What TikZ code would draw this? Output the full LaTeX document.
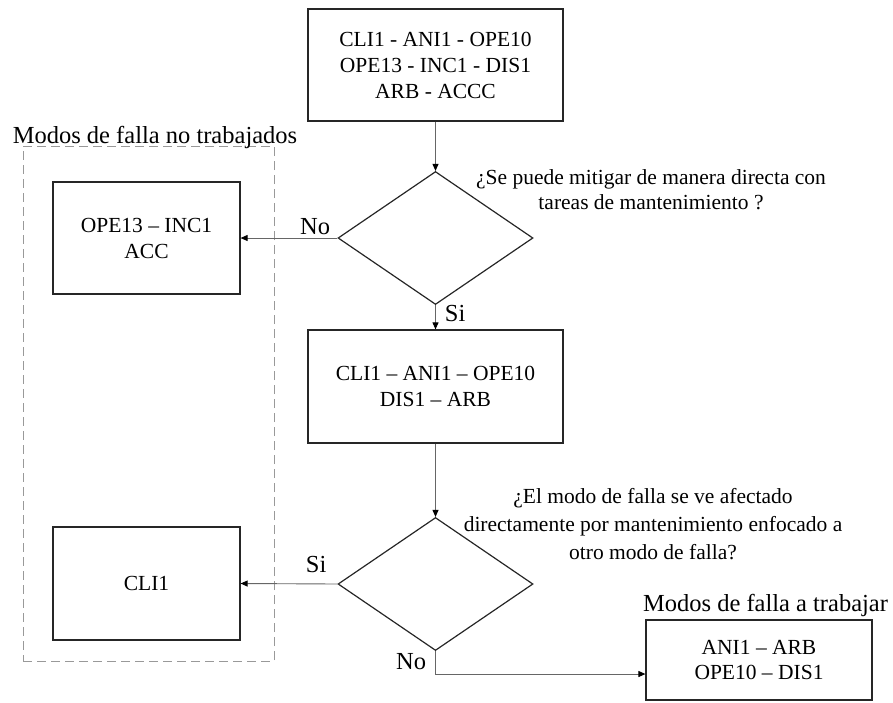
\documentclass[tikz,border=0pt]{standalone}
\usepackage{fontspec}
\setmainfont{Liberation Serif}
\usetikzlibrary{shapes.geometric,arrows.meta}
\begin{document}
\begin{tikzpicture}[x=1pt,y=-1pt,
  box/.style={draw=black!85, line width=1.2pt, inner sep=0pt, align=center,
    font=\fontsize{21.5}{26}\selectfont},
  decision/.style={diamond, draw=black!85, line width=1.2pt, minimum width=195pt,
    minimum height=133pt, inner sep=0pt},
  conn/.style={draw=black!60, line width=0.9pt, -{Triangle[length=7pt,width=6pt,color=black]}},
  lab/.style={font=\fontsize{24.5}{28}\selectfont, inner sep=0pt},
  qtext/.style={font=\fontsize{21.5}{28}\selectfont, align=center, inner sep=0pt},
  grouprect/.style={draw=black!40, line width=1pt, dash pattern=on 9pt off 5pt, inner sep=0pt}
]
\useasboundingbox (0,0) rectangle (893,702);

% group frame
\node[grouprect, minimum width=251pt, minimum height=515pt] (grp) at (148.5,403.5) {};
\node[lab] (grptitle) at (155,137) {Modos de falla no trabajados};

% main flow
\node[box, minimum width=255pt, minimum height=112pt] (top) at (435.5,65)
  {CLI1 - ANI1 - OPE10\\OPE13 - INC1 - DIS1\\ARB - ACCC};
\node[decision] (d1) at (435.5,238) {};
\node[qtext, font=\fontsize{21.5}{25}\selectfont] (q1) at (651,190)
  {¿Se puede mitigar de manera directa con\\tareas de mantenimiento ?};
\node[box, minimum width=187pt, minimum height=112pt] (b1) at (146.5,238)
  {OPE13 – INC1\\ACC};
\node[box, minimum width=255pt, minimum height=113pt] (b2) at (435.5,386.5)
  {CLI1 – ANI1 – OPE10\\DIS1 – ARB};
\node[decision] (d2) at (435.5,584) {};
\node[qtext] (q2) at (653,524)
  {¿El modo de falla se ve afectado\\directamente por mantenimiento enfocado a\\otro modo de falla?};
\node[box, minimum width=187pt, minimum height=113pt] (b3) at (146.5,583.5) {CLI1};
\node[box, minimum width=226pt, minimum height=80pt, font=\fontsize{21.5}{25}\selectfont] (b4) at (759,660)
  {ANI1 – ARB\\OPE10 – DIS1};
\node[lab] (b4title) at (765.5,605) {Modos de falla a trabajar};

\coordinate (nocorner) at (435.5,674);

% connectors
\draw[conn] (top) -- (d1);
\draw[conn] (d1.west) -- node[lab, pos=0.23, above=3pt] {No} (b1.east);
\draw[conn] (d1.south) -- node[lab, pos=0.35, right=9pt] {Si} (b2.north);
\draw[conn] (b2) -- (d2);
\draw[conn] (d2.west) -- node[lab, pos=0.22, above=11pt] {Si} (b3.east);
\draw[conn] (d2.south) -- node[lab, pos=0.45, left=9pt] {No} (nocorner) -- (nocorner -| b4.west);
\end{tikzpicture}
\end{document}
